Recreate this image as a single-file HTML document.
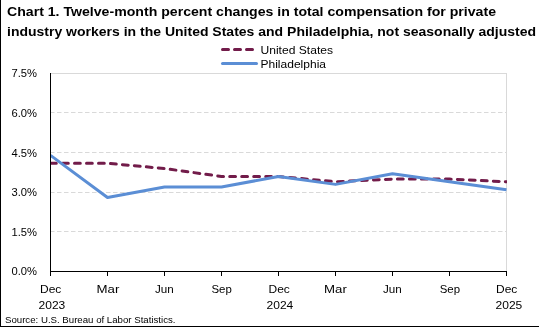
<!DOCTYPE html>
<html><head><meta charset="utf-8">
<style>
html,body{margin:0;padding:0;background:#fff;}
body{width:539px;height:327px;overflow:hidden;position:relative;}
svg{position:absolute;left:0;top:0;will-change:transform;}
text{font-family:"Liberation Sans",sans-serif;}
</style></head>
<body>
<svg width="539" height="327" viewBox="0 0 539 327">
  <rect x="0" y="0" width="539" height="327" fill="#fff"/>
  <!-- outer borders -->
  <rect x="0" y="0" width="1" height="327" fill="#000"/>
  <rect x="0" y="326" width="539" height="1" fill="#000"/>

  <!-- title -->
  <text x="7" y="15.5" font-size="13.3" font-weight="bold" fill="#000" textLength="489" lengthAdjust="spacingAndGlyphs">Chart 1. Twelve-month percent changes in total compensation for private</text>
  <text x="7" y="35.5" font-size="13.3" font-weight="bold" fill="#000" textLength="529" lengthAdjust="spacingAndGlyphs">industry workers in the United States and Philadelphia, not seasonally adjusted</text>

  <!-- legend -->
  <line x1="222.5" y1="49.5" x2="254" y2="49.5" stroke="#721C4A" stroke-width="3" stroke-dasharray="6 6" stroke-linecap="round"/>
  <line x1="222.5" y1="63.5" x2="256.5" y2="63.5" stroke="#5B8ED5" stroke-width="3" stroke-linecap="round"/>
  <text x="260.5" y="53.5" font-size="10.8" fill="#000" textLength="72.5" lengthAdjust="spacingAndGlyphs">United States</text>
  <text x="260.5" y="67.5" font-size="10.8" fill="#000" textLength="65.5" lengthAdjust="spacingAndGlyphs">Philadelphia</text>

  <!-- gridlines -->
  <g stroke="#D9D9D9" stroke-width="1" stroke-dasharray="4.5 2.5">
    <line x1="50" y1="112.5" x2="506" y2="112.5"/>
    <line x1="50" y1="152.5" x2="506" y2="152.5"/>
    <line x1="50" y1="192.5" x2="506" y2="192.5"/>
    <line x1="50" y1="231.5" x2="506" y2="231.5"/>
  </g>
  <line x1="50" y1="73.5" x2="507" y2="73.5" stroke="#D9D9D9" stroke-width="1"/>
  <line x1="506.5" y1="73" x2="506.5" y2="271" stroke="#D9D9D9" stroke-width="1"/>

  <!-- y labels -->
  <g font-size="10.8" fill="#000">
    <text x="11.5" y="77" textLength="25.5" lengthAdjust="spacingAndGlyphs">7.5%</text>
    <text x="11.5" y="117" textLength="25.5" lengthAdjust="spacingAndGlyphs">6.0%</text>
    <text x="11.5" y="157" textLength="25.5" lengthAdjust="spacingAndGlyphs">4.5%</text>
    <text x="11.5" y="196" textLength="25.5" lengthAdjust="spacingAndGlyphs">3.0%</text>
    <text x="11.5" y="236" textLength="25.5" lengthAdjust="spacingAndGlyphs">1.5%</text>
    <text x="11.5" y="275" textLength="25.5" lengthAdjust="spacingAndGlyphs">0.0%</text>
  </g>

  <!-- series -->
  <defs><clipPath id="pc"><rect x="50" y="60" width="457" height="212"/></clipPath></defs>
  <g clip-path="url(#pc)" fill="none" stroke-width="3" stroke-linejoin="round">
    <polyline stroke="#721C4A" stroke-dasharray="5.8 6.2" stroke-linecap="round" points="50.5,163.26 107.5,163.26 164.5,168.54 221.5,176.46 278.5,176.46 335.5,181.74 392.5,179.10 449.5,179.10 506.5,181.74"/>
    <polyline stroke="#5B8ED5" stroke-linecap="butt" points="50.5,155.34 107.5,197.58 164.5,187.02 221.5,187.02 278.5,176.46 335.5,184.38 392.5,173.82 449.5,181.74 506.5,189.66"/>
  </g>

  <!-- axes -->
  <rect x="50" y="73" width="1" height="203" fill="#000"/>
  <rect x="50" y="271" width="457" height="1" fill="#000"/>
  <g fill="#000">
    <rect x="107" y="271" width="1" height="5"/>
    <rect x="164" y="271" width="1" height="5"/>
    <rect x="221" y="271" width="1" height="5"/>
    <rect x="278" y="271" width="1" height="5"/>
    <rect x="335" y="271" width="1" height="5"/>
    <rect x="392" y="271" width="1" height="5"/>
    <rect x="449" y="271" width="1" height="5"/>
    <rect x="506" y="271" width="1" height="5"/>
  </g>

  <!-- x labels -->
  <g font-size="10.8" fill="#000">
    <text x="40" y="293" textLength="21.3" lengthAdjust="spacingAndGlyphs">Dec</text>
    <text x="96.5" y="293" textLength="22.8" lengthAdjust="spacingAndGlyphs">Mar</text>
    <text x="155" y="293" textLength="18.8" lengthAdjust="spacingAndGlyphs">Jun</text>
    <text x="211.5" y="293" textLength="20.3" lengthAdjust="spacingAndGlyphs">Sep</text>
    <text x="268.5" y="293" textLength="21.3" lengthAdjust="spacingAndGlyphs">Dec</text>
    <text x="324" y="293" textLength="22.8" lengthAdjust="spacingAndGlyphs">Mar</text>
    <text x="383" y="293" textLength="18.8" lengthAdjust="spacingAndGlyphs">Jun</text>
    <text x="439.7" y="293" textLength="20.3" lengthAdjust="spacingAndGlyphs">Sep</text>
    <text x="496" y="293" textLength="21.3" lengthAdjust="spacingAndGlyphs">Dec</text>
    <text x="38.5" y="309" textLength="26.8" lengthAdjust="spacingAndGlyphs">2023</text>
    <text x="266.5" y="309" textLength="26.8" lengthAdjust="spacingAndGlyphs">2024</text>
    <text x="495.5" y="309" textLength="26.8" lengthAdjust="spacingAndGlyphs">2025</text>
  </g>

  <!-- source -->
  <text x="5" y="323" font-size="9.5" fill="#000" textLength="170.5" lengthAdjust="spacingAndGlyphs">Source: U.S. Bureau of Labor Statistics.</text>
</svg>
</body></html>
